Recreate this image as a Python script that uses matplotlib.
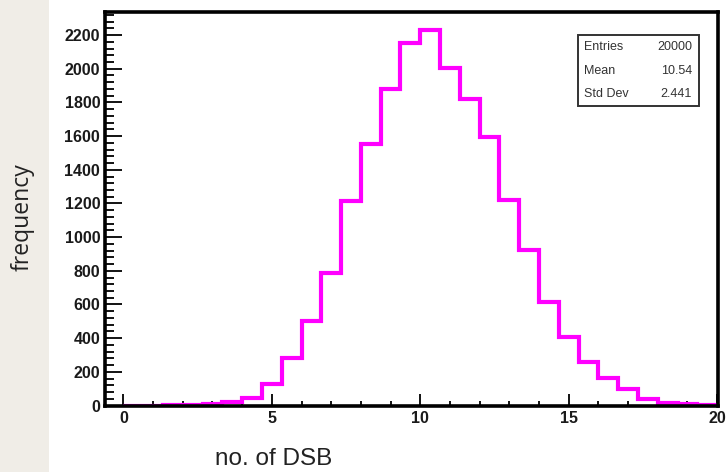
import numpy as np
import matplotlib
matplotlib.use("Agg")
import matplotlib.pyplot as plt
from matplotlib.patches import Rectangle
from matplotlib.ticker import MultipleLocator

# ---- data ----
counts = [0, 0, 1, 2, 6, 23, 43, 128, 281, 499, 787, 1213, 1556, 1877, 2151,
          2230, 2006, 1818, 1595, 1223, 921, 612, 406, 261, 165, 96, 37, 17, 9, 3]
x_range = (0, 20)
stat_names = ["Entries", "Mean", "Std Dev"]
stat_values = ["20000", "10.54", "2.441"]
x_ticks = [0, 5, 10, 15, 20]
y_ticks = list(range(0, 2201, 200))

W, H = 728, 472
fig = plt.figure(figsize=(W / 100, H / 100), dpi=100)
fig.patch.set_facecolor("white")

# beige strip on the left
fig.patches.append(Rectangle((0, 0), 49 / W, 1, transform=fig.transFigure,
                             facecolor="#F0EDE7", edgecolor="none", zorder=0))

left, right, top, bottom = 105, 718, 12, 405.5
ax = fig.add_axes([left / W, (H - bottom) / H, (right - left) / W, (bottom - top) / H])

edges = np.linspace(x_range[0], x_range[1], len(counts) + 1)
ax.stairs(counts, edges, color="#FF00FF", linewidth=3.0, baseline=0, zorder=2)

ax.set_xlim(-0.62, 20.03)
ax.set_ylim(0, 2337)

for s in ax.spines.values():
    s.set_linewidth(2.6)
    s.set_color("black")
    s.set_zorder(3)

ax.set_xticks(x_ticks)
ax.set_yticks(y_ticks)
ax.xaxis.set_minor_locator(MultipleLocator(1))
ax.yaxis.set_minor_locator(MultipleLocator(40))
ax.tick_params(axis="x", which="major", direction="in", length=8.5, width=1.3, pad=4,
               top=False)
ax.tick_params(axis="x", which="minor", direction="in", length=3.8, width=1.3, top=False)
ax.tick_params(axis="y", which="major", direction="in", length=12.5, width=1.3, pad=3.5,
               right=False)
ax.tick_params(axis="y", which="minor", direction="in", length=6.5, width=1.3, right=False)

for lab in ax.get_xticklabels() + ax.get_yticklabels():
    lab.set_fontfamily("Liberation Sans")
    lab.set_fontweight("bold")
    lab.set_fontsize(11.5)
    lab.set_color("#1a1a1a")

# stats box
bx0, by0, bx1, by1 = 578, 35, 699, 106
fig.patches.append(Rectangle((bx0 / W, (H - by1) / H), (bx1 - bx0) / W, (by1 - by0) / H,
                             transform=fig.transFigure, facecolor="white",
                             edgecolor="#333333", linewidth=1.4, zorder=5))
rows_y = [47, 71, 94]
for name, val, ry in zip(stat_names, stat_values, rows_y):
    fig.text(584 / W, (H - ry) / H, name, ha="left", va="center", fontsize=9,
             family="Liberation Sans", color="#333333", zorder=6)
    fig.text(692 / W, (H - ry) / H, val, ha="right", va="center", fontsize=9,
             family="Liberation Sans", color="#333333", zorder=6)

# axis titles
fig.text(23 / W, (H - 217) / H, "frequency", rotation=90, ha="center", va="center",
         fontsize=16.5, family="Open Sans", color="#222222")
fig.text(273.5 / W, (H - 459) / H, "no. of DSB", ha="center", va="center",
         fontsize=17.5, family="Liberation Sans", color="#222222")

fig.savefig("out.png", dpi=100)
